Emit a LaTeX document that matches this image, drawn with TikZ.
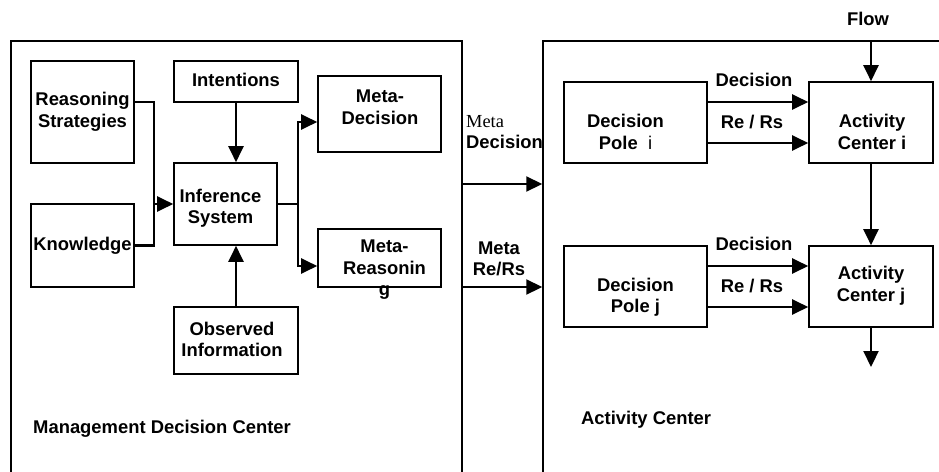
\documentclass[tikz,border=0pt]{standalone}
\usepackage{fontspec}
\setmainfont{Liberation Sans}
\newfontfamily\timesfont{Liberation Serif}
\usetikzlibrary{arrows.meta}

\tikzset{
  box/.style={draw, line width=1.6pt, inner sep=0pt},
  frame/.style={draw, line width=1.5pt, inner sep=0pt},
  txt/.style={align=center, inner sep=0pt, font=\fontsize{18.4}{21.5}\selectfont\bfseries},
  arrow/.style={draw, line width=2.2pt, -{Triangle[length=16pt,width=15pt]}}
  }
\tikzstyle{edge} = [draw, line width=2.2pt, -]

\begin{document}
\begin{tikzpicture}[x=1pt, y=-1pt]
  \useasboundingbox (0,0) rectangle (939,471);
  \clip (0,0) rectangle (939,471);

  % the two centres, open at the bottom
  \node[frame, minimum width=451pt, minimum height=479pt] (mdc) at (236.5,280.5) {};
  \node[frame, minimum width=457pt, minimum height=479pt] (ac) at (771.5,280.5) {};

  \foreach \name/\pos/\w/\h in {{rs/(82.5,112)/103pt/102pt}, {know/(82.5,245.5)/103pt/83pt},
      {intent/(236,81.5)/124pt/41pt}, {infer/(225.5,204)/103pt/82pt}, {obs/(236,340.5)/124pt/67pt},
      {mdec/(379.5,114)/123pt/76pt}, {mreas/(379.5,258)/123pt/58pt},
      {poli/(635.5,122.5)/143pt/81pt}, {acti/(871,122.5)/124pt/81pt},
      {polj/(635.5,286.5)/143pt/81pt}, {actj/(871,286.5)/124pt/81pt}} {
    \node[box, minimum width=\w, minimum height=\h] (\name) at \pos {};
  }

  \foreach \name/\dx/\dy/\txt in {{rs/0/0/Reasoning\\Strategies}, {know/0/0/Knowledge},
      {intent/0/-1.5/Intentions}, {infer/-5/4/Inference\\System}, {obs/-4/-1/Observed\\Information},
      {mdec/0.5/-6.5/Meta-\\Decision}, {mreas/5/12/Meta-\\Reasonin\\g},
      {poli/-10/9.5/Decision\\Pole~~{\mdseries i}}, {acti/1/9.5/Activity\\Center i},
      {polj/0/10.5/Decision\\Pole j}, {actj/0/-1/Activity\\Center j}} {
    \node[txt] (\name-t) at ([shift={(\dx,\dy)}]\name.center) {\txt};
  }

  % management side
  \coordinate (join) at (154,204);
  \coordinate (split) at (298,204);
  \path[edge] ([yshift=10pt]rs.east) -| (join);
  \path[edge] (know.east) -| (join);
  \path[arrow] (join) -- (infer.west);
  \path[arrow] (intent.south) -- (intent.south |- infer.north);
  \path[arrow] (obs.north) -- (obs.north |- infer.south);
  \path[edge] (infer.east) -- (split);
  \path[arrow] (split) |- ([yshift=-8pt]mdec.west);
  \path[arrow] (split) |- ([yshift=-8pt]mreas.west);

  % between the centres
  \path[arrow] (mdc.east |- 0,184) -- (ac.west |- 0,184);
  \path[arrow] (mdc.east |- 0,287) -- (ac.west |- 0,287);
  \node[txt, anchor=west, align=left] (meta-dec) at (466,132) {{\timesfont\mdseries Meta}\\Decision};
  \node[txt] (meta-rers) at (499,259) {Meta\\Re/Rs};

  % activity side
  \node[txt] (flow) at (868,19) {Flow};
  \path[arrow] (acti.north |- ac.north) -- (acti.north);
  \foreach \row in {i,j} {
    \path[arrow] ([yshift=20.5pt]pol\row.east) -- node[txt, xshift=-4pt, yshift=22pt] (dec-\row) {Decision} ([yshift=20.5pt]act\row.west);
    \path[arrow] ([yshift=-20.5pt]pol\row.east) -- node[txt, xshift=-6pt, yshift=21pt] (rers-\row) {Re / Rs} ([yshift=-20.5pt]act\row.west);
  }
  \path[arrow] (acti.south) -- (actj.north);
  \coordinate (out) at (871,367);
  \path[arrow] (actj.south) -- (out);

  \node[txt, anchor=west] (mdc-lbl) at (33,429) {Management Decision Center};
  \node[txt, anchor=west] (ac-lbl) at (581,420) {Activity Center};
\end{tikzpicture}
\end{document}
